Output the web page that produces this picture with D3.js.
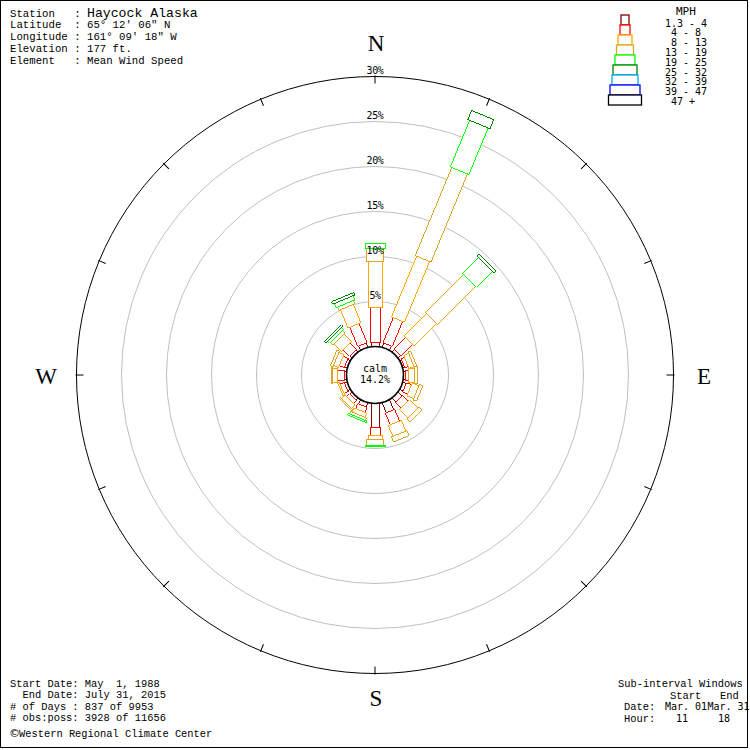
<!DOCTYPE html>
<html>
<head>
<meta charset="utf-8">
<script src="https://cdnjs.cloudflare.com/ajax/libs/d3/7.8.5/d3.min.js"></script>
<style>
  body { margin: 0; background: #fff; }
  svg { display: block; }
  text { white-space: pre; }
</style>
</head>
<body>
<svg id="rose"></svg>
<script>
const width = 750,
  height = 750;
const cx = 375,
  cy = 375;

// wind directions, clockwise from north
const directions = ["N", "NNE", "NE", "ENE", "E", "ESE", "SE", "SSE",
  "S", "SSW", "SW", "WSW", "W", "WNW", "NW", "NNW"];

// percent of observations per direction, one array per speed class
const mph1 = [0.5, 0.5, 0.4, 0.2, 0.2, 0.4, 0.6, 1.2, 2.7, 0.5, 0.3, 0.3, 0.2, 0.3, 0.3, 0.5];
const mph2 = [3.8, 3.0, 1.8, 0.4, 0.4, 0.6, 0.9, 1.4, 0.8, 0.6, 0.5, 0.5, 0.8, 0.6, 1.0, 2.3];
const mph3 = [5.1, 7.3, 3.5, 0.6, 0.6, 0.8, 1.3, 1.3, 0.55, 0.5, 0.5, 0.2, 0.6, 0.6, 1.2, 2.2];
const mph4 = [1.5, 10.6, 6.0, 0.3, 0.3, 0.4, 0.5, 0.6, 0.65, 0.3, 0.2, 0, 0.05, 0.3, 0.4, 0.4];
const mph5 = [0.5, 5.6, 2.5, 0, 0, 0, 0, 0, 0.1, 0.2, 0, 0, 0, 0, 0.3, 0.5];
const mph6 = [0, 1.1, 0.3, 0, 0, 0, 0, 0, 0, 0, 0, 0, 0, 0, 0.2, 0.3];
const mph7 = [0, 0, 0, 0, 0, 0, 0, 0, 0, 0, 0, 0, 0, 0, 0, 0];
const mph8 = [0, 0, 0, 0, 0, 0, 0, 0, 0, 0, 0, 0, 0, 0, 0, 0];
const mph9 = [0, 0, 0, 0, 0, 0, 0, 0, 0, 0, 0, 0, 0, 0, 0, 0];
const calmPct = 14.2;

const speedLabels = ["1.3 - 4", " 4 - 8", " 8 - 13", "13 - 19", "19 - 25",
  "25 - 32", "32 - 39", "39 - 47", " 47 +"];
const ringPcts = [5, 10, 15, 20, 25, 30];

const stationLines = [
  "Latitude  : 65\u00b0 12' 06\" N",
  "Longitude : 161\u00b0 09' 18\" W",
  "Elevation : 177 ft.",
  "Element   : Mean Wind Speed"
];
const periodLines = [
  "Start Date: May  1, 1988",
  "  End Date: July 31, 2015",
  "# of Days : 837 of 9953",
  "# obs:poss: 3928 of 11656"
];

// styles
const speedColors = ["#800000", "#ff0000", "#ffa500", "#daa520", "#00ff00",
  "#008000", "#00a8ff", "#0000ff", "#000000"];
const segWidth = [8, 10, 14, 17, 20, 24, 26, 30, 33];
const monoSerif = "'Liberation Mono', 'Courier New', monospace";
const monoSans = "'DejaVu Sans Mono', monospace";

const classes = [mph1, mph2, mph3, mph4, mph5, mph6, mph7, mph8, mph9];
const keys = classes.map((c, k) => "m" + k);
const rows = directions.map((d, i) => {
  const row = { dir: d };
  classes.forEach((c, k) => (row[keys[k]] = c[i]));
  return row;
});
const stacked = d3.stack().keys(keys)(rows);

const r = d3.scaleLinear().domain([0, 30]).range([28.5, 298.5]);
const angle = d3.scaleLinear().domain([0, directions.length]).range([0, 360]);

const svg = d3
  .select("#rose")
  .attr("width", width)
  .attr("height", height);

svg
  .append("rect")
  .attr("x", 0.5)
  .attr("y", 0.5)
  .attr("width", 747)
  .attr("height", 747)
  .attr("fill", "#fff")
  .attr("stroke", "#000");

// rings
svg
  .append("g")
  .selectAll("circle")
  .data(ringPcts)
  .join("circle")
  .attr("cx", cx)
  .attr("cy", cy)
  .attr("r", d => r(d))
  .attr("fill", "none")
  .attr("stroke", d => (d === 30 ? "#000" : "#c0c0c0"))
  .attr("stroke-width", 1);

// ticks on the outer ring
svg
  .append("g")
  .selectAll("line")
  .data(directions)
  .join("line")
  .attr("transform", (d, i) => `translate(${cx},${cy}) rotate(${angle(i)})`)
  .attr("x1", 0)
  .attr("x2", 0)
  .attr("y1", -r(30) - 1)
  .attr("y2", -r(30) + 7)
  .attr("stroke", "#000");

// petals
const petal = svg
  .append("g")
  .attr("shape-rendering", "crispEdges")
  .selectAll("g")
  .data(rows)
  .join("g")
  .attr("transform", (d, i) => `translate(${cx},${cy}) rotate(${angle(i)})`);

petal.each(function(d, i) {
  const g = d3.select(this);
  stacked.forEach((s, k) => {
    const [y0, y1] = s[i];
    if (y1 - y0 <= 0) return;
    g.append("rect")
      .attr("x", -segWidth[k] / 2)
      .attr("y", -r(y1))
      .attr("width", segWidth[k])
      .attr("height", r(y1) - r(y0))
      .attr("fill", "#fff")
      .attr("stroke", speedColors[k])
      .attr("stroke-width", 1);
  });
});

// calm circle
svg
  .append("circle")
  .attr("cx", cx)
  .attr("cy", cy)
  .attr("r", r(0))
  .attr("fill", "#fff")
  .attr("stroke", "#000")
  .attr("stroke-width", 1.6);

svg
  .append("text")
  .attr("x", cx)
  .attr("y", 371.5)
  .attr("text-anchor", "middle")
  .style("font", `10px ${monoSans}`)
  .text("calm");
svg
  .append("text")
  .attr("x", cx)
  .attr("y", 383.3)
  .attr("text-anchor", "middle")
  .style("font", `10px ${monoSans}`)
  .text(calmPct.toFixed(1) + "%");

// ring labels
svg
  .append("g")
  .selectAll("text")
  .data(ringPcts)
  .join("text")
  .attr("x", cx)
  .attr("y", d => cy - r(d) - 2.5)
  .attr("text-anchor", "middle")
  .style("font", `10px ${monoSans}`)
  .style("letter-spacing", "-0.4px")
  .text(d => d + "%");

// compass letters
const compass = [
  { t: "N", x: cx + 1, y: 51 },
  { t: "S", x: cx + 1, y: 706 },
  { t: "W", x: 46, y: 384 },
  { t: "E", x: 704, y: 384 }
];
svg
  .append("g")
  .selectAll("text")
  .data(compass)
  .join("text")
  .attr("x", d => d.x)
  .attr("y", d => d.y)
  .attr("text-anchor", "middle")
  .style("font", "23px 'Liberation Serif', serif")
  .text(d => d.t);

// legend
const legend = svg.append("g");
legend
  .selectAll("rect")
  .data(speedLabels)
  .join("rect")
  .attr("x", (d, k) => 625 - segWidth[k] / 2)
  .attr("y", (d, k) => 15 + k * 10)
  .attr("width", (d, k) => segWidth[k])
  .attr("height", 10)
  .attr("fill", "#fff")
  .attr("stroke", (d, k) => speedColors[k])
  .attr("stroke-width", 1.3);
legend
  .selectAll("text")
  .data(speedLabels)
  .join("text")
  .attr("x", 665)
  .attr("y", (d, k) => 26.5 + k * 9.8)
  .style("font", `10px ${monoSans}`)
  .text(d => d);
legend
  .append("text")
  .attr("x", 676)
  .attr("y", 15)
  .style("font", `11px ${monoSans}`)
  .text("MPH");

// station header
const head = svg.append("text").attr("x", 10).attr("y", 16.5).style("font", `10.7px ${monoSerif}`);
head.append("tspan").text("Station   : ");
head.append("tspan").style("font-size", "13.2px").text("Haycock Alaska");
svg
  .append("g")
  .selectAll("text")
  .data(stationLines)
  .join("text")
  .attr("x", 10)
  .attr("y", (d, i) => 28.3 + i * 12)
  .style("font", `10.7px ${monoSerif}`)
  .text(d => d);

// period info
svg
  .append("g")
  .selectAll("text")
  .data(periodLines)
  .join("text")
  .attr("x", 10)
  .attr("y", (d, i) => 687 + i * 11.3)
  .style("font", `10.4px ${monoSerif}`)
  .text(d => d);
svg
  .append("text")
  .attr("x", 9)
  .attr("y", 737)
  .style("font", "11px 'DejaVu Sans', sans-serif")
  .text("\u00a9");
svg
  .append("text")
  .attr("x", 19)
  .attr("y", 737)
  .style("font", `10.4px ${monoSerif}`)
  .text("Western Regional Climate Center");

// sub-interval block
const sub = [
  { t: "Sub-interval Windows", x: 618, y: 687, f: monoSerif },
  { t: "Start", x: 670, y: 698.5, f: monoSerif },
  { t: "End", x: 720, y: 698.5, f: monoSerif },
  { t: "Date:", x: 624, y: 710, f: monoSerif },
  { t: "Mar. 01", x: 665, y: 710, f: monoSans },
  { t: "Mar. 31", x: 707.5, y: 710, f: monoSans },
  { t: "Hour:", x: 624, y: 722, f: monoSerif },
  { t: "11", x: 676, y: 722, f: monoSans },
  { t: "18", x: 718, y: 722, f: monoSans }
];
svg
  .append("g")
  .selectAll("text")
  .data(sub)
  .join("text")
  .attr("x", d => d.x)
  .attr("y", d => d.y)
  .style("font", d => `${d.f === monoSans ? 10 : 10.4}px ${d.f}`)
  .text(d => d.t);

// right border drawn again over the clipped text
svg
  .append("line")
  .attr("x1", 747.5)
  .attr("x2", 747.5)
  .attr("y1", 0)
  .attr("y2", 748)
  .attr("stroke", "#000");
</script>
</body>
</html>
